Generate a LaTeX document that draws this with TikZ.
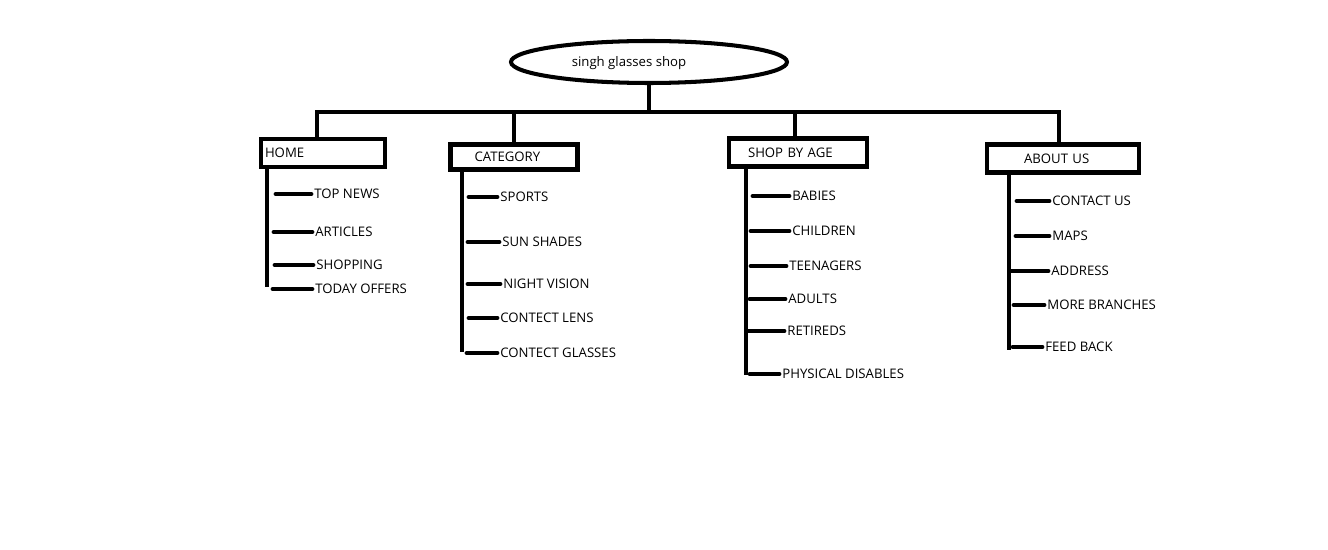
\documentclass[tikz,border=0pt]{standalone}
\usepackage{fontspec}
\setmainfont{Open Sans}
\usepackage{tikz}
\usetikzlibrary{shapes.geometric}

\begin{document}
\begin{tikzpicture}[
            x=0.02cm, y=-0.02cm,
            font=\fontsize{7.5}{9}\selectfont,
        top node/.style={ellipse,draw,line width=2.3pt,minimum width=5.52cm,minimum height=0.84cm},
        box node/.style={rectangle,draw,line width=2.3pt,align=left,inner ysep=0pt,minimum height=0.56cm},
        item node/.style={anchor=west,inner xsep=0.06cm,inner ysep=0pt},
        tree line/.style={line width=2.3pt},
        stub line/.style={line width=2.8pt,line cap=round}
                                ]
    \useasboundingbox (0,0) rectangle (1328,550);

          \node[top node] (shop) at (649,62) {};
          \node (shop text) at (629,63) {singh glasses shop};

          % the four menus
          \node[box node,text width=2.32cm,inner xsep=0.08cm] (home) at (323,153) {HOME};
          \node[box node,text width=1.58cm,inner xsep=0.48cm,minimum height=0.5cm] (cat) at (514,157) {CATEGORY};
          \node[box node,text width=2cm,inner xsep=0.38cm] (age) at (798,152.5) {SHOP BY AGE};
          \node[box node,text width=1.56cm,inner xsep=0.74cm] (about) at (1063,158.5) {ABOUT US};

          \coordinate (d home) at (317,112);
          \coordinate (d cat) at (514,112);
          \coordinate (d age) at (795,112);
          \coordinate (d about) at (1059,112);

          \draw[tree line] (shop.south) -- (shop.south |- d home);
          \draw[tree line] (d home |- home.north) -- (d home) -- (d about) -- (d about |- about.north);
          \draw[tree line] (d cat) -- (d cat |- cat.north);
          \draw[tree line] (d age) -- (d age |- age.north);

          % spines
          \coordinate (home end) at (267,287);
          \coordinate (cat end) at (462,352);
          \coordinate (age end) at (746,375);
          \coordinate (about end) at (1009,350);
          \draw[tree line] (home.south -| home end) -- (home end);
          \draw[tree line] (cat.south -| cat end) -- (cat end);
          \draw[tree line] (age.south -| age end) -- (age end);
          \draw[tree line] (about.south -| about end) -- (about end);

          % items
          \node[item node] (topnews) at (311,194) {TOP NEWS};
          \node[item node] (articles) at (312,232) {ARTICLES};
          \node[item node] (shopping) at (313,265) {SHOPPING};
          \node[item node] (offers) at (312,289) {TODAY OFFERS};

          \node[item node] (sports) at (497,197) {SPORTS};
          \node[item node] (sunshades) at (499,242) {SUN SHADES};
          \node[item node] (night) at (500,284) {NIGHT VISION};
          \node[item node] (lens) at (497,318) {CONTECT LENS};
          \node[item node] (cglasses) at (497,353) {CONTECT GLASSES};

          \node[item node] (babies) at (789,196) {BABIES};
          \node[item node] (children) at (789,231) {CHILDREN};
          \node[item node] (teens) at (786,266) {TEENAGERS};
          \node[item node] (adults) at (785,299) {ADULTS};
          \node[item node] (retireds) at (784,331) {RETIREDS};
          \node[item node] (disables) at (779,374) {PHYSICAL DISABLES};

          \node[item node] (contact) at (1049,201) {CONTACT US};
          \node[item node] (maps) at (1049,236) {MAPS};
          \node[item node] (address) at (1048,271) {ADDRESS};
          \node[item node] (branches) at (1044,305) {MORE BRANCHES};
          \node[item node] (feedback) at (1042,347) {FEED BACK};

          \foreach \n/\l in {topnews/35,articles/38,shopping/38,offers/39,
                             sports/28,sunshades/31,night/32,lens/28,cglasses/30,
                             babies/36,children/38,teens/35,adults/35,retireds/35,disables/29,
                             contact/32,maps/33,address/36,branches/30,feedback/29}
            \draw[stub line] (\n.west) -- ++(-\l,0);
    \end{tikzpicture}
\end{document}
